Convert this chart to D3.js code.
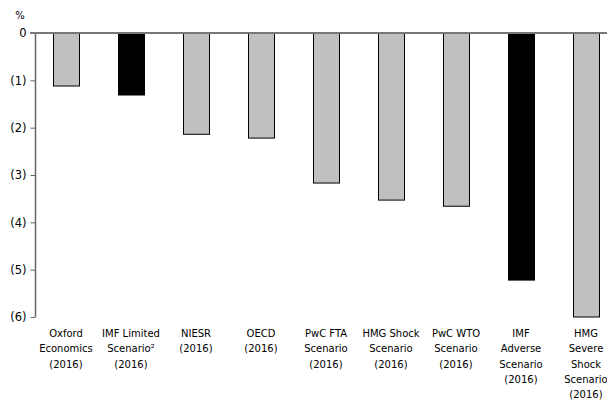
<!DOCTYPE html>
<html>
<head>
<meta charset="utf-8">
<script src="https://cdn.jsdelivr.net/npm/d3@7"></script>
<style>
  body { margin: 0; background: #fff; }
  svg text { font-family: "DejaVu Sans", Verdana, sans-serif; fill: #000; }
</style>
</head>
<body>
<svg id="chart" width="607" height="401"></svg>
<script>
// Estimated impact on GDP (%, shown as negatives in brackets)
const categories = [
  ["Oxford", "Economics", "(2016)"],
  ["IMF Limited", "Scenario²", "(2016)"],
  ["NIESR", "(2016)"],
  ["OECD", "(2016)"],
  ["PwC FTA", "Scenario", "(2016)"],
  ["HMG Shock", "Scenario", "(2016)"],
  ["PwC WTO", "Scenario", "(2016)"],
  ["IMF", "Adverse", "Scenario", "(2016)"],
  ["HMG", "Severe", "Shock", "Scenario", "(2016)"]
];
const values = [-1.12, -1.31, -2.14, -2.22, -3.17, -3.53, -3.66, -5.22, -6.0];
const isImf = [false, true, false, false, false, false, false, true, false];
const tickValues = [0, -1, -2, -3, -4, -5, -6];
const tickLabels = ["0", "(1)", "(2)", "(3)", "(4)", "(5)", "(6)"];

const svg = d3.select("#chart");

const y = d3.scaleLinear().domain([-6, 0]).range([317, 33]);
const x = d3.scaleBand()
  .domain(d3.range(categories.length))
  .range([33.5, 618.5])
  .paddingInner(0.6)
  .paddingOuter(0.3);

// bars
svg.append("g").selectAll("rect")
  .data(values)
  .join("rect")
  .attr("x", (d, i) => x(i) + 0.5)
  .attr("y", y(0))
  .attr("width", x.bandwidth())
  .attr("height", d => y(d) - y(0))
  .attr("fill", (d, i) => isImf[i] ? "#000" : "#c0c0c0")
  .attr("stroke", "#000")
  .attr("stroke-width", 1);

// y axis
const yAxis = d3.axisLeft(y)
  .tickValues(tickValues)
  .tickFormat((d, i) => tickLabels[i])
  .tickSize(5)
  .tickPadding(4);
const gy = svg.append("g").attr("transform", "translate(35.5,0)").call(yAxis);
gy.select(".domain").attr("stroke", "#666").attr("stroke-width", 1.5).attr("d", `M0,${y(0)}V${y(-6)}`);
gy.selectAll(".tick line").attr("stroke", "#666");
gy.selectAll(".tick text").attr("font-size", 11.5);
gy.selectAll(".tick").filter(d => d === 0).select("line").remove();

// zero baseline
svg.append("line")
  .attr("x1", 30).attr("x2", 607)
  .attr("y1", y(0)).attr("y2", y(0))
  .attr("stroke", "#777").attr("stroke-width", 2);

// unit label
svg.append("text").attr("x", 20).attr("y", 19)
  .attr("text-anchor", "middle").attr("font-size", 10).text("%");

// category labels
const labels = svg.append("g").selectAll("text")
  .data(categories)
  .join("text")
  .attr("text-anchor", "middle")
  .attr("font-size", 10);
labels.each(function(lines, i) {
  const t = d3.select(this);
  lines.forEach((line, j) => {
    t.append("tspan")
      .attr("x", x(i) + x.bandwidth() / 2)
      .attr("y", 337 + j * 15.3)
      .text(line);
  });
});
</script>
</body>
</html>
